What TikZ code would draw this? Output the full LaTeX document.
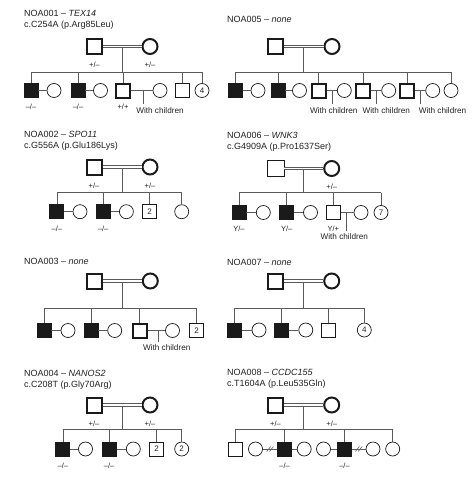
\documentclass[tikz,border=0pt]{standalone}
\usepackage{fontspec}
\setmainfont{Liberation Sans}
\usetikzlibrary{positioning, calc}
\definecolor{pedgray}{HTML}{5A5A5A}
\definecolor{symblack}{HTML}{1A1A1A}
\definecolor{txtdark}{HTML}{222222}
\tikzset{
  pedline/.style={draw=pedgray, line width=0.6pt},
  consang/.style={draw=pedgray, line width=0.7pt, double=white, double distance=1.8pt},
  kid/.style={draw=symblack, line width=0.7pt, fill=white, minimum size=14pt, inner sep=0pt,
    font=\fontsize{8}{9}\selectfont, text=txtdark},
  male/.style={kid, rectangle},
  female/.style={kid, circle},
  affected/.style={fill=symblack},
  carrier/.style={line width=2pt},
  founder/.style={minimum size=15pt, line width=2pt},
  geno/.style={font=\fontsize{7.5}{8}\selectfont, text=txtdark, inner sep=0pt},
  note/.style={font=\fontsize{8.2}{9}\selectfont, text=txtdark, inner sep=0pt},
  pedtitle/.style={font=\fontsize{9}{11}\selectfont, text=txtdark, inner sep=0pt, anchor=base west},
}

\begin{document}
\begin{tikzpicture}[x=1pt, y=-1pt]
  \useasboundingbox (0,0) rectangle (472,477);

  % NOA001 - TEX14
  \node[pedtitle] (p1t1) at (24,16.8) {NOA001 -- \textit{TEX14}};
  \node[pedtitle] (p1t2) at (24,27.8) {c.C254A (p.Arg85Leu)};
  \node[male, founder] (p1f) at (94.5,46.5) {};
  \node[female, founder] (p1m) at (150,46.5) {};
  \node[geno, below=7pt of p1f] (p1fg) {+/--};
  \node[geno, below=7pt of p1m] (p1mg) {+/--};
  \coordinate (p1d) at ($(p1f)!.5!(p1m)$);
  \coordinate (p1s) at (0,72);
  \node[male, affected] (p1c1) at (31,90.5) {};
  \node[female] (p1w1) at (54,90.5) {};
  \node[male, affected] (p1c2) at (78,90.5) {};
  \node[female] (p1w2) at (100.5,90.5) {};
  \node[male, carrier] (p1c3) at (123,90.5) {};
  \node[female] (p1w3) at (160,90.5) {};
  \node[male] (p1c4) at (182,90.5) {};
  \node[female] (p1c5) at (202,90.5) {4};
  \node[geno, below=6.5pt of p1c1] (p1g1) {--/--};
  \node[geno, below=6.5pt of p1c2] (p1g2) {--/--};
  \node[geno, below=5.5pt of p1c3] (p1g3) {+/+};
  \node[note] (p1n) at (160,110.5) {With children};
  \draw[pedline] (p1d) -- (p1d |- p1s);
  \draw[pedline] (p1c1 |- p1s) -- (p1c5 |- p1s);
  \foreach \k in {c1,c2,c3,c4,c5} \draw[pedline] (p1\k |- p1s) -- (p1\k);
  \draw[pedline] (p1c1) -- (p1w1) (p1c2) -- (p1w2) (p1c3) -- (p1w3);
  \coordinate (p1k) at ($(p1c3.east)!.55!(p1w3.west)$);
  \coordinate (p1ke) at ($(p1k)+(0,-13pt)$);
  \draw[pedline] (p1k) -- (p1ke);
  \draw[consang] (p1f) -- (p1m);

  % NOA005 - none
  \node[pedtitle] (p2t1) at (227,22.7) {NOA005 -- \textit{none}};
  \node[male, founder] (p2f) at (275.5,46.5) {};
  \node[female, founder] (p2m) at (332,46.5) {};
  \coordinate (p2d) at ($(p2f)!.5!(p2m)$);
  \coordinate (p2s) at (0,72);
  \node[male, affected] (p2c1) at (235.3,90.5) {};
  \node[female] (p2w1) at (258,90.5) {};
  \node[male, affected] (p2c2) at (278,90.5) {};
  \node[female] (p2w2) at (299.5,90.5) {};
  \node[male, carrier] (p2c3) at (318.7,90.5) {};
  \node[female] (p2w3) at (344.3,90.5) {};
  \node[male, carrier] (p2c4) at (363,90.5) {};
  \node[female] (p2w4) at (388.7,90.5) {};
  \node[male, carrier] (p2c5) at (407,90.5) {};
  \node[female] (p2w5) at (432.7,90.5) {};
  \node[female] (p2c6) at (451,90.5) {};
  \node[note] (p2n3) at (333.7,110.5) {With children};
  \node[note] (p2n4) at (386.3,110.5) {With children};
  \node[note] (p2n5) at (442.5,110.5) {With children};
  \draw[pedline] (p2d) -- (p2d |- p2s);
  \draw[pedline] (p2c1 |- p2s) -- (p2c6 |- p2s);
  \foreach \k in {c1,c2,c3,c4,c5,c6} \draw[pedline] (p2\k |- p2s) -- (p2\k);
  \draw[pedline] (p2c1) -- (p2w1) (p2c2) -- (p2w2);
  \foreach \k in {3,4,5} {
    \draw[pedline] (p2c\k) -- (p2w\k);
    \coordinate (p2k\k) at ($(p2c\k.east)!.5!(p2w\k.west)$);
    \coordinate (p2ke\k) at ($(p2k\k)+(0,-13pt)$);
    \draw[pedline] (p2k\k) -- (p2ke\k);
  }
  \draw[consang] (p2f) -- (p2m);

  % NOA002 - SPO11
  \node[pedtitle] (p3t1) at (24,137.3) {NOA002 -- \textit{SPO11}};
  \node[pedtitle] (p3t2) at (24,148.7) {c.G556A (p.Glu186Lys)};
  \node[male, founder] (p3f) at (94,167) {};
  \node[female, founder] (p3m) at (150,167) {};
  \node[geno, below=7pt of p3f] (p3fg) {+/--};
  \node[geno, below=7pt of p3m] (p3mg) {+/--};
  \coordinate (p3d) at ($(p3f)!.5!(p3m)$);
  \coordinate (p3s) at (0,192.7);
  \node[male, affected] (p3c1) at (56.8,211.7) {};
  \node[female] (p3w1) at (80,211.7) {};
  \node[male, affected] (p3c2) at (103.2,211.7) {};
  \node[female] (p3w2) at (126.4,211.7) {};
  \node[male] (p3c3) at (149.7,211.7) {2};
  \node[female] (p3c4) at (181.7,211.7) {};
  \node[geno, below=6.5pt of p3c1] (p3g1) {--/--};
  \node[geno, below=6.5pt of p3c2] (p3g2) {--/--};
  \draw[pedline] (p3d) -- (p3d |- p3s);
  \draw[pedline] (p3c1 |- p3s) -- (p3c4 |- p3s);
  \foreach \k in {c1,c2,c3,c4} \draw[pedline] (p3\k |- p3s) -- (p3\k);
  \draw[pedline] (p3c1) -- (p3w1) (p3c2) -- (p3w2);
  \draw[consang] (p3f) -- (p3m);

  % NOA006 - WNK3
  \node[pedtitle] (p4t1) at (227,138) {NOA006 -- \textit{WNK3}};
  \node[pedtitle] (p4t2) at (227,149.3) {c.G4909A (p.Pro1637Ser)};
  \node[male, minimum size=16.5pt] (p4f) at (275.7,168.5) {};
  \node[female, founder] (p4m) at (331.7,168.5) {};
  \node[geno, below=7pt of p4m] (p4mg) {+/--};
  \coordinate (p4d) at ($(p4f)!.5!(p4m)$);
  \coordinate (p4s) at (0,192.7);
  \node[male, affected] (p4c1) at (239,212.5) {};
  \node[female] (p4w1) at (263.3,212.5) {};
  \node[male, affected] (p4c2) at (286.7,212.5) {};
  \node[female] (p4w2) at (310.5,212.5) {};
  \node[male, line width=1.4pt] (p4c3) at (333.3,212.5) {};
  \node[female] (p4w3) at (361,212.5) {};
  \node[female] (p4c4) at (381,212.5) {7};
  \node[geno, below=6.5pt of p4c1] (p4g1) {Y/--};
  \node[geno, below=6.5pt of p4c2] (p4g2) {Y/--};
  \node[geno, below=6pt of p4c3] (p4g3) {Y/+};
  \node[note] (p4n) at (344.3,237) {With children};
  \draw[pedline] (p4d) -- (p4d |- p4s);
  \draw[pedline] (p4c1 |- p4s) -- (p4c4 |- p4s);
  \foreach \k in {c1,c2,c3,c4} \draw[pedline] (p4\k |- p4s) -- (p4\k);
  \draw[pedline] (p4c1) -- (p4w1) (p4c2) -- (p4w2) (p4c3) -- (p4w3);
  \coordinate (p4k) at ($(p4c3.east)!.4!(p4w3.west)$);
  \coordinate (p4ke) at ($(p4k)+(0,-18pt)$);
  \draw[pedline] (p4k) -- (p4ke);
  \draw[consang] (p4f) -- (p4m);

  % NOA003 - none
  \node[pedtitle] (p5t1) at (24,264.3) {NOA003 -- \textit{none}};
  \node[male, founder] (p5f) at (94,281) {};
  \node[female, founder] (p5m) at (150.3,281) {};
  \coordinate (p5d) at ($(p5f)!.5!(p5m)$);
  \coordinate (p5s) at (0,308.3);
  \node[male, affected] (p5c1) at (44,330.5) {};
  \node[female] (p5w1) at (68,330.5) {};
  \node[male, affected] (p5c2) at (91,330.5) {};
  \node[female] (p5w2) at (114.7,330.5) {};
  \node[male, carrier] (p5c3) at (139.7,330.5) {};
  \node[female] (p5w3) at (172.5,330.5) {};
  \node[male] (p5c4) at (196.7,330.5) {2};
  \node[note] (p5n) at (166.7,347.7) {With children};
  \draw[pedline] (p5d) -- (p5d |- p5s);
  \draw[pedline] (p5c1 |- p5s) -- (p5c4 |- p5s);
  \foreach \k in {c1,c2,c3,c4} \draw[pedline] (p5\k |- p5s) -- (p5\k);
  \draw[pedline] (p5c1) -- (p5w1) (p5c2) -- (p5w2) (p5c3) -- (p5w3);
  \coordinate (p5k) at ($(p5c3.east)!.6!(p5w3.west)$);
  \coordinate (p5ke) at ($(p5k)+(0,-11pt)$);
  \draw[pedline] (p5k) -- (p5ke);
  \draw[consang] (p5f) -- (p5m);

  % NOA007 - none
  \node[pedtitle] (p6t1) at (227,265.3) {NOA007 -- \textit{none}};
  \node[male, founder] (p6f) at (275.5,281) {};
  \node[female, founder] (p6m) at (331.7,281) {};
  \coordinate (p6d) at ($(p6f)!.5!(p6m)$);
  \coordinate (p6s) at (0,308.3);
  \node[male, affected] (p6c1) at (234.2,330) {};
  \node[female] (p6w1) at (259,330) {};
  \node[male, affected] (p6c2) at (281.5,330) {};
  \node[female] (p6w2) at (305.8,330) {};
  \node[male] (p6c3) at (328.7,330) {};
  \node[female] (p6c4) at (364.3,330) {4};
  \draw[pedline] (p6d) -- (p6d |- p6s);
  \draw[pedline] (p6c1 |- p6s) -- (p6c4 |- p6s);
  \foreach \k in {c1,c2,c3,c4} \draw[pedline] (p6\k |- p6s) -- (p6\k);
  \draw[pedline] (p6c1) -- (p6w1) (p6c2) -- (p6w2);
  \draw[consang] (p6f) -- (p6m);

  % NOA004 - NANOS2
  \node[pedtitle] (p7t1) at (24,376.7) {NOA004 -- \textit{NANOS2}};
  \node[pedtitle] (p7t2) at (24,387.7) {c.C208T (p.Gly70Arg)};
  \node[male, founder] (p7f) at (94,405) {};
  \node[female, founder] (p7m) at (150,405) {};
  \node[geno, below=7pt of p7f] (p7fg) {+/--};
  \node[geno, below=7pt of p7m] (p7mg) {+/--};
  \coordinate (p7d) at ($(p7f)!.5!(p7m)$);
  \coordinate (p7s) at (0,429);
  \node[male, affected] (p7c1) at (62.8,449) {};
  \node[female] (p7w1) at (85.5,449) {};
  \node[male, affected] (p7c2) at (109.2,449) {};
  \node[female] (p7w2) at (133.3,449) {};
  \node[male] (p7c3) at (156.5,449) {2};
  \node[female] (p7c4) at (181.7,449) {2};
  \node[geno, below=6.5pt of p7c1] (p7g1) {--/--};
  \node[geno, below=6.5pt of p7c2] (p7g2) {--/--};
  \draw[pedline] (p7d) -- (p7d |- p7s);
  \draw[pedline] (p7c1 |- p7s) -- (p7c4 |- p7s);
  \foreach \k in {c1,c2,c3,c4} \draw[pedline] (p7\k |- p7s) -- (p7\k);
  \draw[pedline] (p7c1) -- (p7w1) (p7c2) -- (p7w2);
  \draw[consang] (p7f) -- (p7m);

  % NOA008 - CCDC155
  \node[pedtitle] (p8t1) at (227,375.3) {NOA008 -- \textit{CCDC155}};
  \node[pedtitle] (p8t2) at (227,386.7) {c.T1604A (p.Leu535Gln)};
  \node[male, founder] (p8f) at (275.5,405) {};
  \node[female, founder] (p8m) at (331.7,405) {};
  \node[geno, below=7pt of p8f] (p8fg) {+/--};
  \node[geno, below=7pt of p8m] (p8mg) {+/--};
  \coordinate (p8d) at ($(p8f)!.5!(p8m)$);
  \coordinate (p8s) at (0,429);
  \node[male] (p8c1) at (235,449) {};
  \node[female] (p8x1) at (255.5,449) {};
  \node[male, affected] (p8c2) at (284.7,449) {};
  \node[female] (p8w2) at (304.2,449) {};
  \node[female] (p8w3) at (323.5,449) {};
  \node[male, affected] (p8c3) at (344.5,449) {};
  \node[female] (p8x3) at (373,449) {};
  \node[female] (p8c4) at (392.7,449) {};
  \node[geno, below=6.5pt of p8c2] (p8g2) {--/--};
  \node[geno, below=6.5pt of p8c3] (p8g3) {--/--};
  \draw[pedline] (p8d) -- (p8d |- p8s);
  \draw[pedline] (p8c1 |- p8s) -- (p8c4 |- p8s);
  \foreach \k in {c1,c2,c3,c4} \draw[pedline] (p8\k |- p8s) -- (p8\k);
  \draw[pedline] (p8x1) -- (p8c2) (p8c2) -- (p8w2) (p8w3) -- (p8c3) (p8c3) -- (p8x3);
  % separated couples
  \coordinate (p8v1) at ($(p8x1.east)!.5!(p8c2.west)$);
  \coordinate (p8v3) at ($(p8c3.east)!.5!(p8x3.west)$);
  \foreach \v in {p8v1,p8v3}
    \draw[pedline] ([shift={(-3.4pt,-2.5pt)}]\v) -- ++(4pt,5pt)
                   ([shift={(-0.6pt,-2.5pt)}]\v) -- ++(4pt,5pt);
  \draw[consang] (p8f) -- (p8m);
\end{tikzpicture}
\end{document}
